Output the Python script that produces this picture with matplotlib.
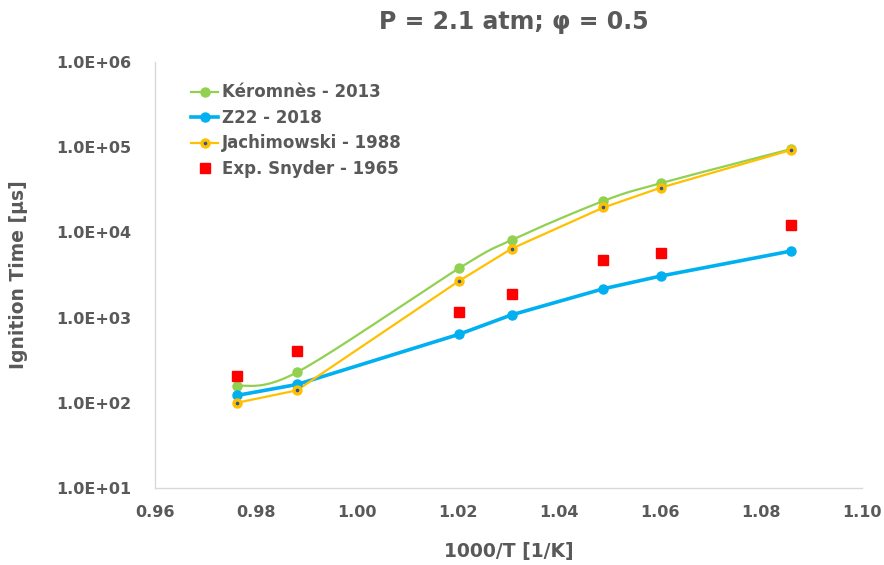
import numpy as np
import matplotlib
matplotlib.use("Agg")
import matplotlib.pyplot as plt
from matplotlib.ticker import FixedLocator, FuncFormatter
from matplotlib.lines import Line2D

# ---- data ----
x_inv_T = [0.9762, 0.9881, 1.0202, 1.0306, 1.0488, 1.0601, 1.0860]
keromnes = [157, 228, 3790, 8140, 23400, 37700, 95300]
z22 = [122, 164, 637, 1076, 2180, 3070, 6050]
jachimowski = [100, 140, 2690, 6440, 19600, 33400, 92900]
exp_snyder = [204, 405, 1160, 1870, 4700, 5780, 12250]

labels = ["Kéromnès - 2013", "Z22 - 2018", "Jachimowski - 1988", "Exp. Snyder - 1965"]
x_ticks = [0.96, 0.98, 1.00, 1.02, 1.04, 1.06, 1.08, 1.10]
y_ticks = [1e1, 1e2, 1e3, 1e4, 1e5, 1e6]

GRAY = "#595959"
GREEN = "#92D050"
BLUE = "#00B0F0"
YELLOW = "#FFC000"
RED = "#FF0000"
DOT = "#2F5597"


def smooth(xs, ys, n=40, sx=5050.0, sy=85.0):
    """Catmull-Rom display smoothing in screen-like space (like Excel smoothed lines)."""
    X = np.asarray(xs, float) * sx
    Y = np.log10(np.asarray(ys, float)) * sy
    P = np.column_stack([X, Y])
    P = np.vstack([P[0], P, P[-1]])
    out = []
    for i in range(1, len(P) - 2):
        p0, p1, p2, p3 = P[i - 1], P[i], P[i + 1], P[i + 2]
        c1 = p1 + (p2 - p0) / 6.0
        c2 = p2 - (p3 - p1) / 6.0
        t = np.linspace(0, 1, n)[:, None]
        seg = ((1 - t) ** 3) * p1 + 3 * ((1 - t) ** 2) * t * c1 + 3 * (1 - t) * t ** 2 * c2 + t ** 3 * p2
        out.append(seg)
    S = np.vstack(out)
    return S[:, 0] / sx, 10 ** (S[:, 1] / sy)


plt.rcParams['font.family'] = ['DejaVu Sans']
fig = plt.figure(figsize=(8.84, 5.65), dpi=100)
ax = fig.add_axes([155 / 884, 1 - 488 / 565, (862 - 155) / 884, (488 - 62) / 565])

MS = 6.5
sx_, sy_ = smooth(x_inv_T, keromnes)
ax.plot(sx_, sy_, color=GREEN, lw=1.6, zorder=3)
ax.plot(x_inv_T, keromnes, 'o', color=GREEN, ms=MS, zorder=4)

ax.plot(x_inv_T, z22, color=BLUE, lw=2.6, zorder=3)
ax.plot(x_inv_T, z22, 'o', color=BLUE, ms=MS, zorder=4)

ax.plot(x_inv_T, jachimowski, color=YELLOW, lw=1.6, zorder=3)
ax.plot(x_inv_T, jachimowski, 'o', color=YELLOW, ms=MS, zorder=5)
ax.plot(x_inv_T, jachimowski, 'o', color=DOT, ms=1.6, zorder=6)

ax.plot(x_inv_T, exp_snyder, 's', color=RED, ms=7.5, zorder=7, linestyle='none')

# legend handles
h1 = Line2D([], [], color=GREEN, lw=1.6, marker='o', ms=MS)
h2 = Line2D([], [], color=BLUE, lw=2.6, marker='o', ms=MS)
h3 = (Line2D([], [], color=YELLOW, lw=1.6, marker='o', ms=MS),
      Line2D([], [], color=DOT, lw=0, marker='o', ms=1.6))
h4 = Line2D([], [], color=RED, lw=0, marker='s', ms=7.5)
leg = ax.legend([h1, h2, h3, h4], labels, loc='upper left',
                bbox_to_anchor=(0.030, 0.985), frameon=False,
                handlelength=1.6, handletextpad=0.25, labelspacing=0.45,
                prop={'weight': 'bold', 'size': 12})
for t in leg.get_texts():
    t.set_color(GRAY)

ax.set_yscale('log')
ax.set_xlim(0.96, 1.10)
ax.set_ylim(1e1, 1e6)
ax.xaxis.set_major_locator(FixedLocator(x_ticks))
ax.yaxis.set_major_locator(FixedLocator(y_ticks))
ax.yaxis.set_minor_locator(FixedLocator([]))
ax.xaxis.set_major_formatter(FuncFormatter(lambda v, p: f"{v:.2f}"))
ax.yaxis.set_major_formatter(FuncFormatter(lambda v, p: f"{v:.1E}"))
ax.tick_params(axis='both', which='both', length=0, labelsize=11.5, colors=GRAY)
ax.tick_params(axis='y', pad=17)
ax.tick_params(axis='x', pad=12)
for lab in ax.get_xticklabels() + ax.get_yticklabels():
    lab.set_fontweight('bold')

for s in ['top', 'right']:
    ax.spines[s].set_visible(False)
for s in ['left', 'bottom']:
    ax.spines[s].set_color("#D9D9D9")
    ax.spines[s].set_linewidth(1.0)

ax.set_xlabel("1000/T [1/K]", fontsize=13.5, fontweight='bold', color=GRAY, labelpad=16)
ax.set_ylabel("Ignition Time [µs]", fontsize=13.5, fontweight='bold', color=GRAY, labelpad=20)

fig.text(514 / 884, 1 - 22 / 565, "P = 2.1 atm; φ = 0.5", ha='center', va='center',
         fontsize=17, fontweight='bold', color=GRAY)

fig.savefig("out.png", dpi=100, facecolor='white')
